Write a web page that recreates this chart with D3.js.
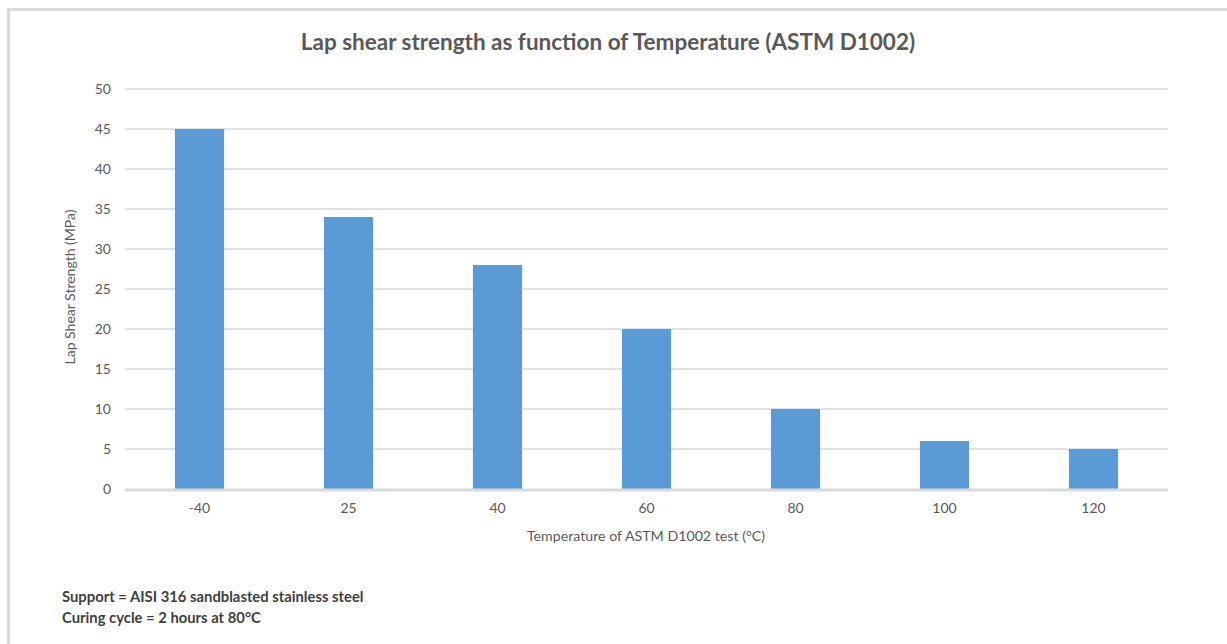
<!DOCTYPE html>
<html>
<head>
<meta charset="utf-8">
<script src="https://cdn.jsdelivr.net/npm/d3@7"></script>
<style>
  body { margin: 0; background: #fff; }
  svg { display: block; font-family: Lato, "Open Sans", sans-serif; }
</style>
</head>
<body>
<svg id="chart" width="1227" height="644"></svg>
<script>
"use strict";

// temperatures of the test (x categories)
const temperatures = ["-40", "25", "40", "60", "80", "100", "120"];
// lap shear strength, MPa
const strength = [45, 34, 28, 20, 10, 6, 5];
// y axis ticks
const yTicks = [0, 5, 10, 15, 20, 25, 30, 35, 40, 45, 50];

const notes = [
    "Support = AISI 316 sandblasted stainless steel",
    "Curing cycle = 2 hours at 80\u00B0C"
];

const svg = d3.select("#chart");
const textColor = "#595959";
const gridColor = "#d9d9d9";

// frame of the chart area (only top and left edges are in view)
svg.append("path")
    .attr("d", "M8.5,644 V9.5 H1227")
    .attr("fill", "none")
    .attr("stroke", gridColor)
    .attr("stroke-width", 3);

const plot = { left: 125, right: 1168, top: 89, bottom: 489 };

const x = d3.scaleBand()
    .domain(temperatures)
    .range([plot.left, plot.right])
    .paddingInner(0.67)
    .paddingOuter(0.335);

const y = d3.scaleLinear()
    .domain([0, 50])
    .range([plot.bottom, plot.top]);

// gridlines
svg.append("g")
    .selectAll("line")
    .data(yTicks.slice(1))
    .join("line")
    .attr("x1", plot.left)
    .attr("x2", plot.right)
    .attr("y1", d => y(d))
    .attr("y2", d => y(d))
    .attr("stroke", gridColor)
    .attr("stroke-width", 1.5);

// y axis labels
const yAxis = svg.append("g")
    .attr("transform", `translate(${plot.left - 14},0)`)
    .call(d3.axisLeft(y).tickValues(yTicks).tickSize(0).tickPadding(0))
    .attr("font-family", null)
    .attr("font-size", null);
yAxis.select(".domain").remove();
yAxis.selectAll("text")
    .attr("fill", textColor)
    .style("font-size", "14px");

// bars
svg.append("g")
    .selectAll("rect")
    .data(strength)
    .join("rect")
    .attr("x", (d, i) => x(temperatures[i]))
    .attr("y", d => y(d))
    .attr("width", x.bandwidth())
    .attr("height", d => y(0) - y(d))
    .attr("fill", "#5b9bd5");

// baseline
svg.append("line")
    .attr("x1", plot.left)
    .attr("x2", plot.right)
    .attr("y1", y(0) + 1)
    .attr("y2", y(0) + 1)
    .attr("stroke", gridColor)
    .attr("stroke-width", 3);

// x axis labels
const xAxis = svg.append("g")
    .attr("transform", `translate(0,${plot.bottom + 14})`)
    .call(d3.axisBottom(x).tickSize(0).tickPadding(0))
    .attr("font-family", null)
    .attr("font-size", null);
xAxis.select(".domain").remove();
xAxis.selectAll("text")
    .attr("fill", textColor)
    .style("font-size", "14px");

// title
svg.append("text")
    .attr("x", 608)
    .attr("y", 50)
    .attr("text-anchor", "middle")
    .attr("fill", textColor)
    .style("font-size", "22.5px")
    .style("font-weight", "bold")
    .text("Lap shear strength as function of Temperature (ASTM D1002)");

// axis titles
svg.append("text")
    .attr("x", 646)
    .attr("y", 541)
    .attr("text-anchor", "middle")
    .attr("fill", textColor)
    .style("font-size", "14.2px")
    .text("Temperature of ASTM D1002 test (\u00B0C)");

svg.append("text")
    .attr("transform", "translate(75,287) rotate(-90)")
    .attr("text-anchor", "middle")
    .attr("fill", textColor)
    .style("font-size", "14px")
    .text("Lap Shear Strength (MPa)");

// footnotes
svg.append("g")
    .selectAll("text")
    .data(notes)
    .join("text")
    .attr("x", 62)
    .attr("y", (d, i) => 602 + i * 21)
    .attr("fill", "#404040")
    .style("font-size", "14.8px")
    .style("font-weight", "bold")
    .text(d => d);
</script>
</body>
</html>
